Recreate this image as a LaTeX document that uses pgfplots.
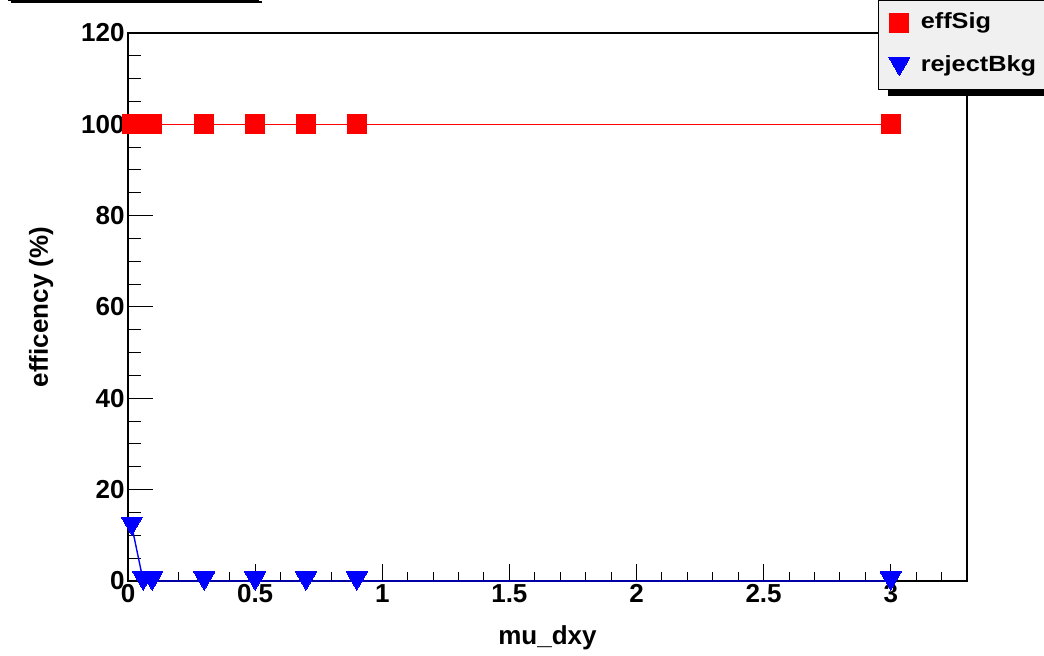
\documentclass[border=0pt]{standalone}
\usepackage{graphicx}
\usepackage{pgfplots}
\pgfplotsset{compat=1.18}
\usepackage{fontspec}
\setmainfont{Liberation Sans}
\definecolor{lgray}{RGB}{240,240,240}
\begin{document}
\begin{tikzpicture}
\useasboundingbox (0,0) rectangle (1044bp,656bp);
\clip (0,0) rectangle (1044bp,656bp);
% partially visible title box (top-left)
\draw[fill=lgray, line width=1bp] (8bp,655bp) rectangle (258bp,700bp);
\fill[black] (11bp,652.5bp) rectangle (261.5bp,655bp);
\begin{axis}[
  scale only axis, width=839bp, height=548bp,
  at={(128bp,75bp)}, anchor=south west,
  xmin=0, xmax=3.3, ymin=0, ymax=120,
  clip=false,
  xtick={0,0.5,1,1.5,2,2.5,3},
  minor xtick={0.1,0.2,0.3,0.4,0.6,0.7,0.8,0.9,1.1,1.2,1.3,1.4,1.6,1.7,1.8,1.9,2.1,2.2,2.3,2.4,2.6,2.7,2.8,2.9,3.1,3.2},
  ytick={0,20,40,60,80,100,120},
  minor ytick={5,10,15,25,30,35,45,50,55,65,70,75,85,90,95,105,110,115},
  tick pos=left, tick align=inside,
  xtick style={/pgfplots/major tick length=17bp, /pgfplots/minor tick length=9bp, black, line width=1bp},
  ytick style={/pgfplots/major tick length=25bp, /pgfplots/minor tick length=13bp, black, line width=1bp},
  axis line style={line width=1.2bp, black},
  /pgf/number format/assume math mode=true,
  tick label style={font=\fontsize{26bp}{30bp}\selectfont\bfseries},
  label style={font=\fontsize{26bp}{30bp}\selectfont\bfseries},
  xlabel={mu\_dxy},
  ylabel={efficency (\%)},
  xlabel style={at={(axis description cs:0.5,0)}, anchor=base, yshift=-63bp},
  ylabel style={at={([xshift=-80bp]axis description cs:0,0.5)}, anchor=base, rotate=0},
  legend style={at={(axis description cs:0.8939,0.8960)}, anchor=south west,
    draw=black, line width=1bp, fill=lgray,
    font=\fontsize{22bp}{26bp}\selectfont\bfseries,
    inner xsep=10.5bp, inner ysep=12.5bp, row sep=22bp, column sep=11bp,
    nodes={inner sep=0pt, text height=16bp, text depth=5bp, text width=125bp, align=left}},
  legend cell align=left,
  legend image code/.code={\draw[#1] plot coordinates {(0bp,0bp)};},
]
\addplot[color=red, line width=1.4bp, mark=square*, mark size=9.5bp, mark options={draw=red, fill=red, line width=0pt}]
  coordinates {(0.015,100) (0.06,100) (0.095,100) (0.3,100) (0.5,100) (0.7,100) (0.9,100) (3,100)};
\addlegendentry{\scalebox{1.15}[1]{effSig}}
\addplot[color=blue, line width=1.4bp, mark=triangle*, mark size=12bp, mark options={yshift=3bp, rotate=180, draw=blue, fill=blue, line width=0pt}]
  coordinates {(0.015,12) (0.06,0) (0.095,0) (0.3,0) (0.5,0) (0.7,0) (0.9,0) (3,0)};
\addlegendentry{\scalebox{1.15}[1]{rejectBkg}}
\end{axis}
\fill[black] (888bp,559.5bp) rectangle (1050bp,566bp);
\end{tikzpicture}
\end{document}
